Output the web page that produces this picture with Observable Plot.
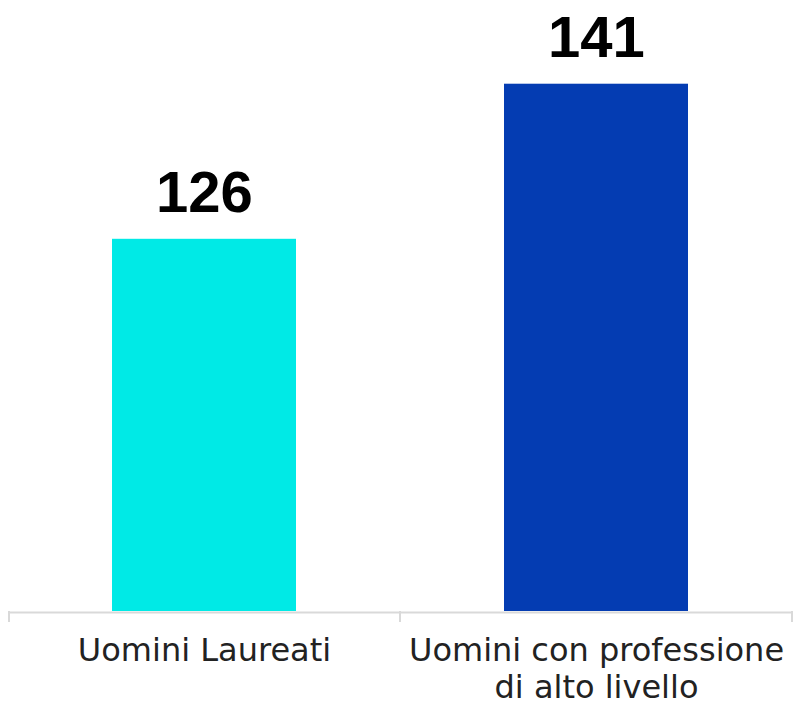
<!DOCTYPE html>
<html>
<head>
<meta charset="utf-8">
<script src="https://cdn.jsdelivr.net/npm/d3@7"></script>
<script src="https://cdn.jsdelivr.net/npm/@observablehq/plot@0.6"></script>
<style>
  html, body { margin: 0; padding: 0; background: #fff; }
</style>
</head>
<body>
<div id="chart"></div>
<script>
const categories = ["Uomini Laureati", "Uomini con professione\ndi alto livello"];
const values = [126, 141];
const colors = ["#00EAE6", "#043CB2"];

const data = categories.map((c, i) => ({category: c, value: values[i], color: colors[i]}));
const W = 793, H = 706, mL = 8, mR = 1;

const chart = Plot.plot({
  width: W,
  height: H,
  marginLeft: mL,
  marginRight: mR,
  marginTop: 1,
  marginBottom: 95,
  style: {fontFamily: "DejaVu Sans", background: "#fff"},
  x: {domain: categories, padding: 0, axis: null},
  y: {domain: [90, 149], axis: null},
  marks: [
    Plot.barY(data, {x: "category", y1: 90, y2: "value", fill: "color", insetLeft: 104, insetRight: 104}),
    Plot.ruleY([90], {stroke: "#d9d9d9", strokeWidth: 2, dy: 1}),
    Plot.text(data, {x: "category", y: "value", text: d => String(d.value), fontSize: 58, fontWeight: "bold", fontFamily: "Liberation Sans", fill: "#000", lineAnchor: "bottom", dy: -27}),
    Plot.axisX({domain: categories, tickSize: 0, tickPadding: 24, fontSize: 32, lineHeight: 1.14, fill: "#222", label: null})
  ]
});
document.getElementById("chart").appendChild(chart);

// boundary ticks below the baseline, at band edges via the x scale
const xs = chart.scale("x"), ys = chart.scale("y");
const svg = d3.select(chart);
const y0 = ys.apply(90);
const edges = categories.map(c => xs.apply(c)).concat([xs.apply(categories[categories.length - 1]) + xs.bandwidth]);
const g = svg.append("g").attr("stroke", "#d9d9d9").attr("stroke-width", 2);
edges.forEach(x => {
  const xx = Math.min(Math.max(x, 9), W - 1);
  g.append("line").attr("x1", xx).attr("x2", xx).attr("y1", y0).attr("y2", y0 + 11);
});
</script>
</body>
</html>
